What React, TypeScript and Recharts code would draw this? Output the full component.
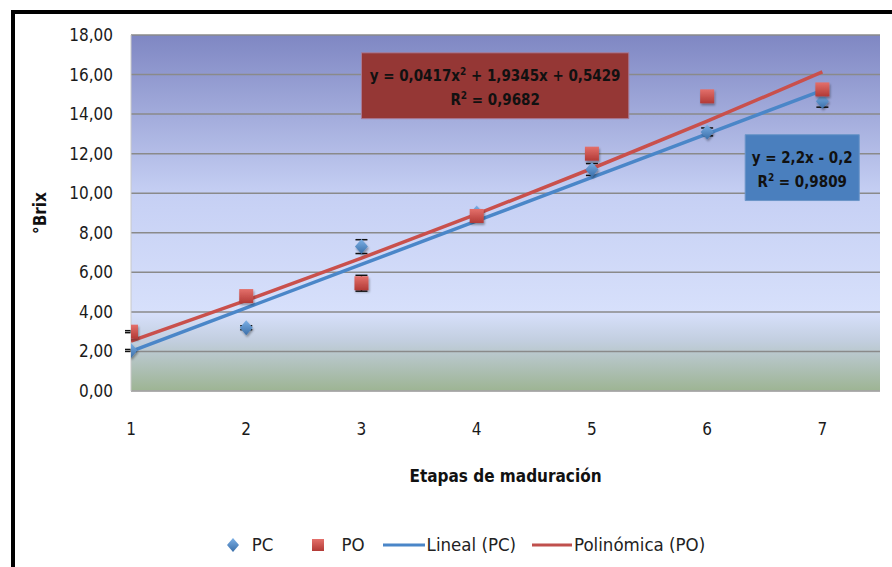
import React from 'react';
import {
    ComposedChart,
    Scatter,
    ErrorBar,
    XAxis,
    YAxis,
    CartesianGrid,
    ReferenceArea,
    Legend,
} from 'recharts';

const stages = [1, 2, 3, 4, 5, 6, 7];
const pcValues = [2.05, 3.2, 7.3, 9.0, 11.2, 13.1, 14.65];
const pcErrors = [0.05, 0.1, 0.35, 0.1, 0.3, 0.2, 0.3];
const poValues = [3.0, 4.8, 5.45, 8.85, 12.0, 14.9, 15.25];
const poErrors = [0.05, 0.1, 0.4, 0.1, 0.1, 0.1, 0.25];
// trend lines as they are drawn in the picture
const linealPC = [2.0, 4.2, 6.4, 8.6, 10.8, 13.0, 15.2];
const polinomicaPO = [2.52, 4.58, 6.72, 8.94, 11.25, 13.64, 16.13];
const yTicks = [0, 2, 4, 6, 8, 10, 12, 14, 16, 18];

const FONT = '"Liberation Sans Narrow", "DejaVu Sans Condensed", "Open Sans", sans-serif';

const pcData = stages.map((x, i) => ({ x, y: pcValues[i], err: pcErrors[i] }));
const poData = stages.map((x, i) => ({ x, y: poValues[i], err: poErrors[i] }));
const pcTrend = stages.map((x, i) => ({ x, y: linealPC[i] }));
const poTrend = stages.map((x, i) => ({ x, y: polinomicaPO[i] }));

const fmt = (v: number) => v.toFixed(2).replace('.', ',');

const Diamond = ({ cx, cy }: any) => (
    <path
        d={`M${cx},${cy - 7.5} L${cx + 6.5},${cy} L${cx},${cy + 7.5} L${cx - 6.5},${cy} Z`}
        fill="url(#gBlue)"
        filter="url(#shadow)"
    />
);

const Square = ({ cx, cy }: any) => (
    <rect x={cx - 7} y={cy - 7} width={14} height={14} fill="url(#gRed)" filter="url(#shadow)" />
);

const BoxLabel = ({ viewBox, lines }: any) => {
    const { x, y, width, height } = viewBox;
    const cx = x + width / 2;
    return (
        <g fontFamily={FONT} fontWeight="bold" fontSize={15} fill="#111">
            {lines.map((l: any, i: number) => (
                <text key={i} x={cx} y={y + height / 2 + (i === 0 ? -5 : 19)} textAnchor="middle">
                    {l.pre}
                    {l.post !== undefined && (
                        <>
                            <tspan fontSize={10} dy={-6}>2</tspan>
                            <tspan dy={6}>{l.post}</tspan>
                        </>
                    )}
                </text>
            ))}
        </g>
    );
};

const CustomLegend = () => (
    <div
        style={{
            display: 'flex',
            alignItems: 'center',
            justifyContent: 'center',
            fontFamily: FONT,
            fontSize: 18.5,
            color: '#222',
            paddingLeft: 24,
        }}
    >
        <svg width={14} height={16}>
            <path d="M7,1 L13,8 L7,15 L1,8 Z" fill="url(#gBlue)" />
        </svg>
        <span style={{ marginLeft: 12, marginRight: 38 }}>PC</span>
        <svg width={14} height={14}>
            <rect x={1} y={1} width={12} height={12} fill="url(#gRed)" />
        </svg>
        <span style={{ marginLeft: 16, marginRight: 18 }}>PO</span>
        <svg width={42} height={6}>
            <line x1={0} y1={3} x2={42} y2={3} stroke="#4a86c8" strokeWidth={3} />
        </svg>
        <span style={{ marginLeft: 2, marginRight: 16 }}>Lineal (PC)</span>
        <svg width={40} height={6}>
            <line x1={0} y1={3} x2={40} y2={3} stroke="#c0504d" strokeWidth={3} />
        </svg>
        <span style={{ marginLeft: 2 }}>Polinómica (PO)</span>
    </div>
);

export default function App() {
    return (
        <div
            style={{
                position: 'absolute',
                left: 11,
                top: 10,
                width: 881,
                height: 557,
                borderLeft: '4px solid #000',
                borderTop: '4px solid #000',
                boxSizing: 'border-box',
                background: '#fff',
                overflow: 'hidden',
            }}
        >
            <ComposedChart width={877} height={553} margin={{ top: 21, right: 12, bottom: 55, left: 0 }}>
                <defs>
                    <linearGradient id="bg" x1="0" y1="0" x2="0" y2="1">
                        <stop offset="0%" stopColor="#7f87c3" />
                        <stop offset="45%" stopColor="#c6d0f4" />
                        <stop offset="78%" stopColor="#d7e0fb" />
                        <stop offset="86%" stopColor="#c2cedf" />
                        <stop offset="100%" stopColor="#9db493" />
                    </linearGradient>
                    <linearGradient id="gBlue" x1="0" y1="0" x2="0" y2="1">
                        <stop offset="0%" stopColor="#7cb0e6" />
                        <stop offset="100%" stopColor="#3a6ea8" />
                    </linearGradient>
                    <linearGradient id="gRed" x1="0" y1="0" x2="0" y2="1">
                        <stop offset="0%" stopColor="#e4706b" />
                        <stop offset="100%" stopColor="#b23a36" />
                    </linearGradient>
                    <filter id="shadow" x="-50%" y="-50%" width="200%" height="200%">
                        <feDropShadow dx="1" dy="2" stdDeviation="1.2" floodColor="#000" floodOpacity="0.35" />
                    </filter>
                </defs>
                <CartesianGrid vertical={false} stroke="#8a8a8a" strokeWidth={1.5} fill="url(#bg)" fillOpacity={1} />
                <XAxis
                    type="number"
                    dataKey="x"
                    domain={[1, 7.5]}
                    ticks={stages}
                    allowDataOverflow
                    height={100}
                    axisLine={{ stroke: '#b8b8b8' }}
                    tickLine={false}
                    tickSize={6}
                    tickMargin={26}
                    tick={{ fill: '#1a1a1a', fontSize: 17, fontFamily: FONT }}
                    label={{
                        value: 'Etapas de maduración',
                        position: 'insideBottom',
                        offset: 9,
                        style: { fontFamily: FONT, fontSize: 17, fontWeight: 'bold', fill: '#111' },
                    }}
                />
                <YAxis
                    type="number"
                    dataKey="y"
                    domain={[0, 18]}
                    ticks={yTicks}
                    width={116}
                    axisLine={{ stroke: '#c8c8c8' }}
                    tickLine={false}
                    tickSize={6}
                    tickMargin={12}
                    tickFormatter={fmt}
                    tick={{ fill: '#1a1a1a', fontSize: 17, fontFamily: FONT }}
                    label={{
                        value: '°Brix',
                        angle: -90,
                        position: 'insideLeft',
                        offset: 25,
                        style: { fontFamily: FONT, fontSize: 17, fontWeight: 'bold', fill: '#111', textAnchor: 'middle' },
                    }}
                />
                <ReferenceArea
                    x1={3.0}
                    x2={5.32}
                    y1={13.77}
                    y2={17.1}
                    fill="#953735"
                    fillOpacity={1}
                    stroke="#a87c98"
                    strokeWidth={1}
                    label={
                        <BoxLabel
                            lines={[
                                { pre: 'y = 0,0417x', post: ' + 1,9345x + 0,5429' },
                                { pre: 'R', post: ' = 0,9682' },
                            ]}
                        />
                    }
                />
                <ReferenceArea
                    x1={6.33}
                    x2={7.32}
                    y1={9.63}
                    y2={12.96}
                    fill="#4a7fbe"
                    fillOpacity={1}
                    stroke="#6b95c8"
                    strokeWidth={1}
                    label={
                        <BoxLabel
                            lines={[
                                { pre: 'y = 2,2x - 0,2' },
                                { pre: 'R', post: ' = 0,9809' },
                            ]}
                        />
                    }
                />
                <Scatter
                    data={pcTrend}
                    line={{ stroke: '#4a86c8', strokeWidth: 3.5 }}
                    lineType="joint"
                    shape={() => null}
                    isAnimationActive={false}
                />
                <Scatter
                    data={poTrend}
                    line={{ stroke: '#c9504c', strokeWidth: 3.5 }}
                    lineType="joint"
                    shape={() => null}
                    isAnimationActive={false}
                />
                <Scatter data={pcData} shape={<Diamond />} isAnimationActive={false}>
                    <ErrorBar dataKey="err" direction="y" width={6} stroke="#111" strokeWidth={1.5} />
                </Scatter>
                <Scatter data={poData} shape={<Square />} isAnimationActive={false}>
                    <ErrorBar dataKey="err" direction="y" width={6} stroke="#111" strokeWidth={1.5} />
                </Scatter>
                <Legend
                    verticalAlign="bottom"
                    content={<CustomLegend />}
                    wrapperStyle={{ bottom: 12, left: 0, width: 877 }}
                />
            </ComposedChart>
        </div>
    );
}
